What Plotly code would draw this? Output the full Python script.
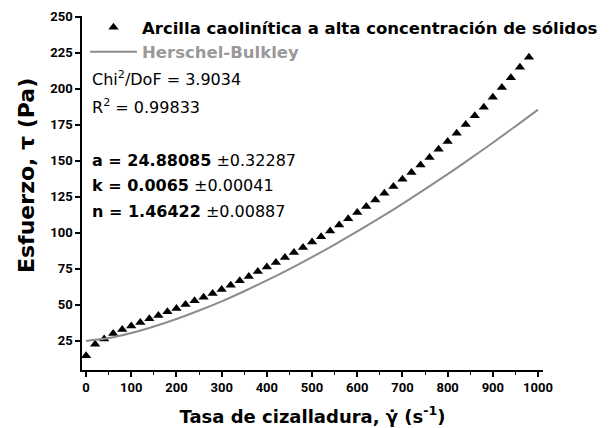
import plotly.graph_objects as go

# Measured data (triangles)
shear_rate = [0, 20, 40, 60, 80, 100, 120, 140, 160, 180,
              200, 220, 240, 260, 280, 300, 320, 340, 360, 380,
              400, 420, 440, 460, 480, 500, 520, 540, 560, 580,
              600, 620, 640, 660, 680, 700, 720, 740, 760, 780,
              800, 820, 840, 860, 880, 900, 920, 940, 960, 980]
stress = [14.6, 22.5, 26.2, 30.0, 32.9, 35.2, 37.7, 40.2, 42.6, 45.1,
          47.4, 50.2, 52.7, 55.3, 57.8, 60.6, 63.6, 66.6, 69.6, 73.1,
          76.3, 79.3, 82.8, 86.3, 89.7, 93.6, 97.3, 101.3, 105.3, 109.8,
          114.0, 118.3, 122.7, 127.4, 132.2, 137.1, 141.9, 147.0, 152.3, 157.9,
          163.4, 169.1, 175.2, 181.2, 187.2, 194.1, 200.8, 207.7, 214.9, 221.8]

# Herschel-Bulkley fitted curve
fit_rate = [0, 50, 100, 150, 200, 250, 300, 350, 400, 450, 500,
            550, 600, 650, 700, 750, 800, 850, 900, 950, 1000]
fit_stress = [24.9, 26.9, 30.4, 34.9, 40.1, 46.0, 52.4, 59.4, 66.9, 74.8, 83.1,
              91.8, 100.9, 110.3, 120.1, 130.3, 140.7, 151.5, 162.5, 173.9, 185.5]

x_ticks = [0, 100, 200, 300, 400, 500, 600, 700, 800, 900, 1000]
y_ticks = [25, 50, 75, 100, 125, 150, 175, 200, 225, 250]

TICKFONT = "Roboto"
TEXTFONT = "DejaVu Sans"

fig = go.Figure()
fig.add_trace(go.Scatter(
    x=shear_rate, y=stress, mode="markers",
    name="Arcilla caolinítica a alta concentración de sólidos",
    marker=dict(symbol="triangle-up", size=9, color="black"),
))
fig.add_trace(go.Scatter(
    x=fit_rate, y=fit_stress, mode="lines", line_shape="spline",
    name="<span style='color:#999999'>Herschel-Bulkley</span>",
    line=dict(color="#8c8c8c", width=2),
))

# plot area in screen px: left 82, top 16, width 461, height 354
def px_x(x):
    return (x - 82) / 461

def px_y(y):
    return 1 - (y - 16) / 354

ann_font = dict(family=TEXTFONT, size=16, color="black")
annots = [
    ("Chi<sup>2</sup>/DoF = 3.9034", 79),
    ("R<sup>2</sup> = 0.99833", 106),
    ("<b>a = 24.88085</b> ±0.32287", 160),
    ("<b>k = 0.0065</b> ±0.00041", 185),
    ("<b>n = 1.46422</b> ±0.00887", 211),
]
for txt, ypx in annots:
    fig.add_annotation(text=txt, xref="paper", yref="paper",
                       x=px_x(90), y=px_y(ypx),
                       xanchor="left", yanchor="middle", showarrow=False,
                       font=ann_font)

# y-axis title (placed as rotated text)
fig.add_annotation(text="Esfuerzo, τ (Pa)", xref="paper", yref="paper",
                   x=px_x(26), y=px_y(176), textangle=-90,
                   xanchor="center", yanchor="middle", showarrow=False,
                   font=dict(family=TEXTFONT, size=22, weight="bold", color="black"))

# page body adds an 8px offset, so margins are shifted accordingly
fig.update_layout(
    width=613, height=428,
    margin=dict(l=74, r=78, t=8, b=66, autoexpand=False),
    plot_bgcolor="white", paper_bgcolor="white",
    font=dict(family=TEXTFONT, color="black"),
    showlegend=True,
    legend=dict(x=3 / 461, y=1 + 6 / 354,
                xanchor="left", yanchor="top",
                bgcolor="rgba(0,0,0,0)",
                font=dict(family=TEXTFONT, size=16.5, weight="bold", color="black"),
                tracegroupgap=0, itemwidth=47),
    xaxis=dict(
        range=[-9, 1011], tickvals=x_ticks, automargin=False,
        showline=True, linecolor="black", linewidth=1.5,
        ticks="outside", ticklen=5, tickwidth=1.5, tickcolor="black",
        minor=dict(ticks="outside", ticklen=3, dtick=50, tick0=0, tickcolor="black", tickwidth=1),
        showgrid=False, zeroline=False, mirror=False,
        tickfont=dict(family=TICKFONT, size=13, weight="bold"),
        title=dict(text="Tasa de cizalladura, γ̇ (s<sup>-1</sup>)",
                   font=dict(family=TEXTFONT, size=18, weight="bold"), standoff=16),
    ),
    yaxis=dict(
        range=[4.7, 250.5], tickvals=y_ticks, automargin=False,
        showline=True, linecolor="black", linewidth=1.5,
        ticks="outside", ticklen=5, tickwidth=1.5, tickcolor="black",
        showgrid=False, zeroline=False, mirror=False,
        tickfont=dict(family=TICKFONT, size=13, weight="bold"),
    ),
)

fig.write_html("out.html")
